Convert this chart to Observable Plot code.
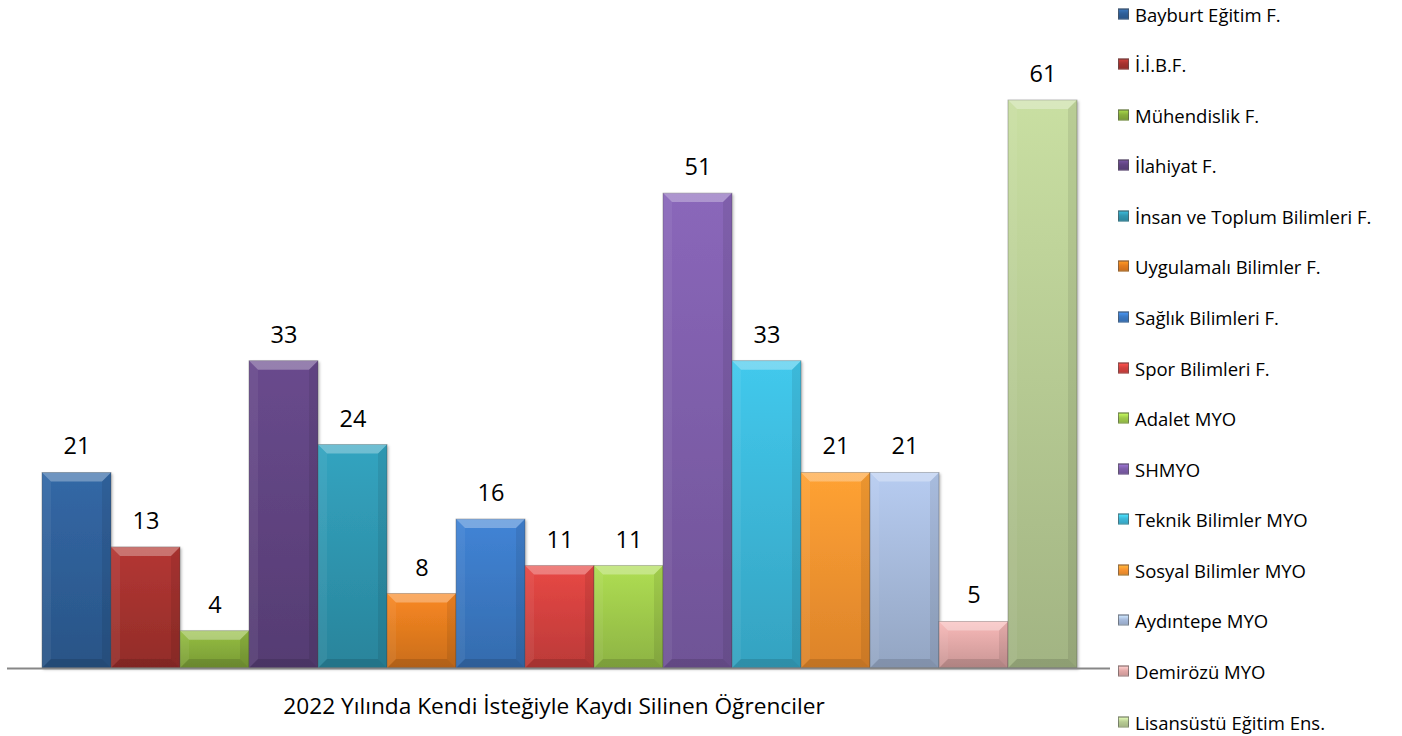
<!DOCTYPE html>
<html>
<head>
<meta charset="utf-8">
<script src="https://cdn.jsdelivr.net/npm/d3@7"></script>
<script src="https://cdn.jsdelivr.net/npm/@observablehq/plot@0.6"></script>
<style>
  html, body { margin: 0; padding: 0; background: #fff; }
  #wrap { position: relative; width: 1402px; height: 736px; overflow: hidden; font-family: "Open Sans", sans-serif; }
  #chart { position: absolute; left: 0; top: 0; }
  #title { position: absolute; left: 554px; top: 705px; transform: translate(-50%, -50%); font-size: 22.7px; color: #000; white-space: nowrap; }
  #legend { position: absolute; left: 1118px; top: 0; }
  .item { position: absolute; left: 0; display: flex; align-items: center; white-space: nowrap; font-size: 18.5px; color: #000; transform: translateY(-50%); }
  .sw { width: 11px; height: 11px; margin-right: 6px; border: 0.5px solid rgba(80,80,80,0.6); box-sizing: border-box; }
</style>
</head>
<body>
<div id="wrap">
  <div id="chart"></div>
  <div id="title"></div>
  <div id="legend"></div>
</div>
<script>
const title = "2022 Yılında Kendi İsteğiyle Kaydı Silinen Öğrenciler";
const categories = [
  "Bayburt Eğitim F.", "İ.İ.B.F.", "Mühendislik F.", "İlahiyat F.",
  "İnsan ve Toplum Bilimleri F.", "Uygulamalı Bilimler F.", "Sağlık Bilimleri F.",
  "Spor Bilimleri F.", "Adalet MYO", "SHMYO", "Teknik Bilimler MYO",
  "Sosyal Bilimler MYO", "Aydıntepe MYO", "Demirözü MYO", "Lisansüstü Eğitim Ens."
];
const values = [21, 13, 4, 33, 24, 8, 16, 11, 11, 51, 33, 21, 21, 5, 61];
const colors = [
  "#2f5f98", "#a5322f", "#88ae3c", "#604481", "#2f96b0", "#e47c1f", "#3b79c4",
  "#d4423f", "#a0cb4c", "#7e5eaa", "#3cb8d9", "#f99430", "#a7bbdc", "#e3a9a8", "#b8cc94"
];

const data = categories.map((c, i) => ({ c, v: values[i], i }));

const chart = Plot.plot({
  width: 1110,
  height: 680,
  marginTop: 100,
  marginBottom: 12,
  marginLeft: 7,
  marginRight: 0,
  style: { fontFamily: "Open Sans, sans-serif", background: "transparent" },
  x: { domain: categories, padding: 0, insetLeft: 33, insetRight: 31, axis: null },
  y: { domain: [0, 61], axis: null },
  color: { type: "identity" },
  marks: [
    Plot.barY(data, {
      x: "c", y: "v",
      fill: d => `url(#grad${d.i})`,
      stroke: "#4a4a4a", strokeOpacity: 0.45, strokeWidth: 0.8
    }),
    Plot.ruleY([0], { stroke: "#878787", strokeWidth: 2 }),
    Plot.text(data, {
      x: "c", y: "v", text: d => String(d.v),
      dy: -26, fontSize: 23.5, fill: "#000", lineAnchor: "middle"
    })
  ]
});
document.getElementById("chart").appendChild(chart);

// gradients
const svg = d3.select(chart);
const defs = svg.insert("defs", ":first-child");
colors.forEach((c, i) => {
  const base = d3.color(c);
  const g = defs.append("linearGradient").attr("id", `grad${i}`)
    .attr("x1", 0).attr("y1", 0).attr("x2", 0).attr("y2", 1);
  g.append("stop").attr("offset", "0%").attr("stop-color", base.brighter(0.25).formatHex());
  g.append("stop").attr("offset", "100%").attr("stop-color", base.darker(0.35).formatHex());
});
defs.append("filter").attr("id", "shadow").attr("x", "-10%").attr("y", "-10%").attr("width", "130%").attr("height", "130%")
  .append("feDropShadow").attr("dx", 1.5).attr("dy", 1.5).attr("stdDeviation", 1.2).attr("flood-color", "#000").attr("flood-opacity", 0.25);

// bevels on bars
const barGroup = svg.select('g[aria-label="bar"]');
barGroup.attr("filter", "url(#shadow)");
const bev = svg.insert("g", 'g[aria-label="rule"]').attr("pointer-events", "none");
barGroup.selectAll("rect").each(function () {
  const r = d3.select(this);
  const x = +r.attr("x"), y = +r.attr("y"), w = +r.attr("width"), h = +r.attr("height");
  const b = Math.min(9, h / 2);
  bev.append("polygon")
    .attr("points", `${x},${y} ${x + w},${y} ${x + w - b},${y + b} ${x + b},${y + b}`)
    .attr("fill", "#fff").attr("fill-opacity", 0.3);
  bev.append("polygon")
    .attr("points", `${x},${y} ${x + b},${y + b} ${x + b},${y + h - b} ${x},${y + h}`)
    .attr("fill", "#fff").attr("fill-opacity", 0.06);
  bev.append("polygon")
    .attr("points", `${x + w},${y} ${x + w - b},${y + b} ${x + w - b},${y + h - b} ${x + w},${y + h}`)
    .attr("fill", "#000").attr("fill-opacity", 0.08);
  bev.append("polygon")
    .attr("points", `${x},${y + h} ${x + b},${y + h - b} ${x + w - b},${y + h - b} ${x + w},${y + h}`)
    .attr("fill", "#000").attr("fill-opacity", 0.12);
});

document.getElementById("title").textContent = title;

// legend
const legend = document.getElementById("legend");
categories.forEach((c, i) => {
  const item = document.createElement("div");
  item.className = "item";
  item.style.top = (13.6 + i * 50.57) + "px";
  const sw = document.createElement("div");
  sw.className = "sw";
  const base = d3.color(colors[i]);
  sw.style.background = `linear-gradient(to bottom, ${base.brighter(0.6).formatHex()} 0%, ${base.formatHex()} 45%, ${base.darker(0.3).formatHex()} 100%)`;
  const t = document.createElement("span");
  t.textContent = c;
  item.appendChild(sw);
  item.appendChild(t);
  legend.appendChild(item);
});
</script>
</body>
</html>
